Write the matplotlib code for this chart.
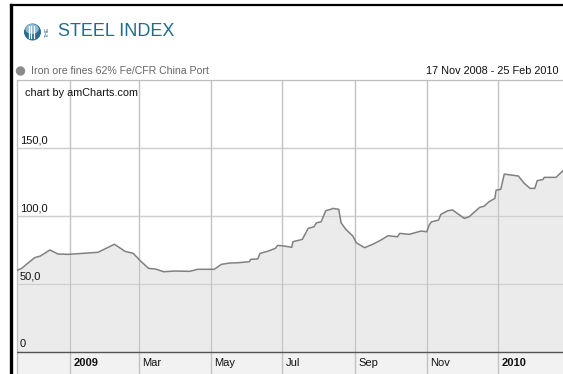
import numpy as np
import pandas as pd
import matplotlib
matplotlib.use("Agg")
import matplotlib.pyplot as plt
from matplotlib.patches import Circle, Ellipse
from matplotlib.lines import Line2D

plt.rcParams['font.family'] = ['Liberation Sans', 'DejaVu Sans']

# weekly-ish price readings, USD/t
dates = ["2008-11-17", "2008-11-21", "2008-11-25", "2008-12-02", "2008-12-07",
         "2008-12-15", "2008-12-22", "2008-12-31", "2009-01-25", "2009-02-08",
         "2009-02-17", "2009-02-24", "2009-03-02", "2009-03-09", "2009-03-15",
         "2009-03-22", "2009-03-31", "2009-04-13", "2009-04-20", "2009-05-04",
         "2009-05-10", "2009-05-17", "2009-05-24", "2009-06-03", "2009-06-04",
         "2009-06-10", "2009-06-12", "2009-06-19", "2009-06-25", "2009-06-27",
         "2009-07-01", "2009-07-09", "2009-07-10", "2009-07-18", "2009-07-23",
         "2009-07-28", "2009-07-30", "2009-08-03", "2009-08-07", "2009-08-12",
         "2009-08-13", "2009-08-18", "2009-08-20", "2009-08-24", "2009-08-30",
         "2009-09-02", "2009-09-09", "2009-09-16", "2009-09-23", "2009-09-29",
         "2009-10-07", "2009-10-09", "2009-10-17", "2009-10-27", "2009-11-01",
         "2009-11-03", "2009-11-05", "2009-11-08", "2009-11-11", "2009-11-13",
         "2009-11-19", "2009-11-23", "2009-11-27", "2009-12-03", "2009-12-07",
         "2009-12-16", "2009-12-20", "2009-12-24", "2009-12-29", "2009-12-30",
         "2010-01-03", "2010-01-06", "2010-01-12", "2010-01-18", "2010-01-23",
         "2010-01-28", "2010-02-01", "2010-02-03", "2010-02-08", "2010-02-09",
         "2010-02-19", "2010-02-25"]
prices = [60.0, 61.5, 64.4, 69.3, 70.6,
          75.0, 72.0, 71.8, 73.3, 79.2,
          74.0, 72.5, 67.1, 61.5, 61.0,
          59.0, 59.5, 59.3, 60.8, 60.8,
          64.4, 65.4, 65.6, 66.4, 68.1,
          68.4, 72.5, 74.2, 76.2, 78.4,
          78.1, 77.0, 81.1, 82.8, 90.9,
          92.1, 95.0, 95.7, 103.9, 105.1,
          105.6, 104.9, 95.0, 90.2, 85.3,
          80.3, 76.7, 79.2, 82.3, 85.5,
          84.7, 87.2, 86.5, 88.9, 88.4,
          93.3, 95.7, 96.3, 97.0, 101.2,
          103.9, 104.4, 101.9, 98.2, 99.4,
          106.3, 107.3, 110.5, 112.9, 119.0,
          119.6, 130.8, 130.1, 129.4, 124.0,
          120.3, 120.3, 125.9, 126.9, 128.4,
          128.4, 133.3]

y_ticks = [0, 50, 100, 150]
y_labels = ["0", "50,0", "100,0", "150,0"]
x_ticks = ["2009-01-01", "2009-03-01", "2009-05-01", "2009-07-01",
           "2009-09-01", "2009-11-01", "2010-01-01"]
x_labels = ["2009", "Mar", "May", "Jul", "Sep", "Nov", "2010"]
x_bold = [True, False, False, False, False, False, True]

series_name = "Iron ore fines 62% Fe/CFR China Port"
range_text = "17 Nov 2008 - 25 Feb 2010"

W, H = 563, 374
fig = plt.figure(figsize=(W / 100, H / 100), dpi=100)
fig.patch.set_facecolor("white")

def fx(x):
    return x / W

def fy(y):
    return 1 - y / H

# plot area: x 17..563 px, y 80..374 px (axis line at 352 px)
ax = fig.add_axes([fx(17), 0, fx(563) - fx(17), 294 / H])
d = pd.to_datetime(dates)
xmin, xmax = pd.Timestamp("2008-11-17"), pd.Timestamp("2010-02-25")
ax.set_xlim(xmin, xmax)
ax.set_ylim(-16.2, 200)

ax.axhspan(-16.2, 0, color="#f2f2f2", zorder=0)
for t in x_ticks:
    ax.axvline(pd.Timestamp(t), color="#cfcfcf", lw=0.9, zorder=1)
for v in y_ticks[1:]:
    ax.axhline(v, color="#d4d4d4", lw=0.9, zorder=1)

ax.fill_between(d, prices, 0, color="#ebebeb", zorder=2, lw=0)
for v in y_ticks[1:]:
    ax.axhline(v, color="#cfcfcf", lw=0.9, zorder=2.5)
for t in x_ticks:
    ax.axvline(pd.Timestamp(t), color="#c4c4c4", lw=0.9, zorder=2.5)
ax.plot(d, prices, color="#808080", lw=1.1, zorder=3)
ax.axhline(0, color="#555555", lw=1.0, zorder=4)

for v, lab in zip(y_ticks, y_labels):
    ax.annotate(lab, (xmin, v), xytext=(2, 2), textcoords="offset points",
                ha="left", va="bottom", fontsize=8, color="#111111", zorder=5)
for t, lab, b in zip(x_ticks, x_labels, x_bold):
    ax.annotate(lab, (pd.Timestamp(t), -8.1), xytext=(2.5, 0),
                textcoords="offset points", ha="left", va="center",
                fontsize=8, color="#111111",
                fontweight="bold" if b else "normal", zorder=5)

ax.set_xticks([])
ax.set_yticks([])
for s in ["right", "bottom"]:
    ax.spines[s].set_visible(False)
ax.spines["left"].set_color("#bdbdbd")
ax.spines["top"].set_color("#bdbdbd")
ax.spines["left"].set_linewidth(0.9)
ax.spines["top"].set_linewidth(0.9)

# outer black frame
fig.add_artist(Line2D([fx(11), 1], [fy(5), fy(5)], color="black", lw=1.6))
fig.add_artist(Line2D([fx(11), fx(11)], [0, fy(5)], color="black", lw=2.4))

# logo
tr = fig.dpi_scale_trans
fig.add_artist(Circle((0.325, (H - 32) / 100), 0.078, transform=tr,
                      color="#2c6a8f", zorder=5))
fig.add_artist(Ellipse((0.32, (H - 29) / 100), 0.12, 0.085, transform=tr,
                       color="#8dbbd4", zorder=6))
for dx in [-0.035, -0.012, 0.012]:
    fig.add_artist(Line2D([0.325 + dx, 0.325 + dx], [(H - 38) / 100, (H - 26) / 100],
                          transform=tr, color="white", lw=0.9, zorder=7))
fig.text(fx(47), fy(32), "THE", rotation=90, fontsize=3.8, color="#2c6a8f",
         ha="center", va="center")
fig.text(fx(58), fy(32), "STEEL INDEX", fontsize=13, color="#1f6d8e",
         ha="left", va="center")

# legend row
fig.add_artist(Circle((0.205, (H - 71) / 100), 0.04, transform=tr,
                      color="#8a8a8a"))
fig.text(fx(31), fy(71), series_name, fontsize=7.6, color="#666666",
         ha="left", va="center")
fig.text(fx(558), fy(71), range_text, fontsize=7.8, color="#111111",
         ha="right", va="center")
fig.text(fx(25), fy(93), "chart by amCharts.com", fontsize=7.8,
         color="#111111", ha="left", va="center")

fig.savefig("out.png", dpi=100)
